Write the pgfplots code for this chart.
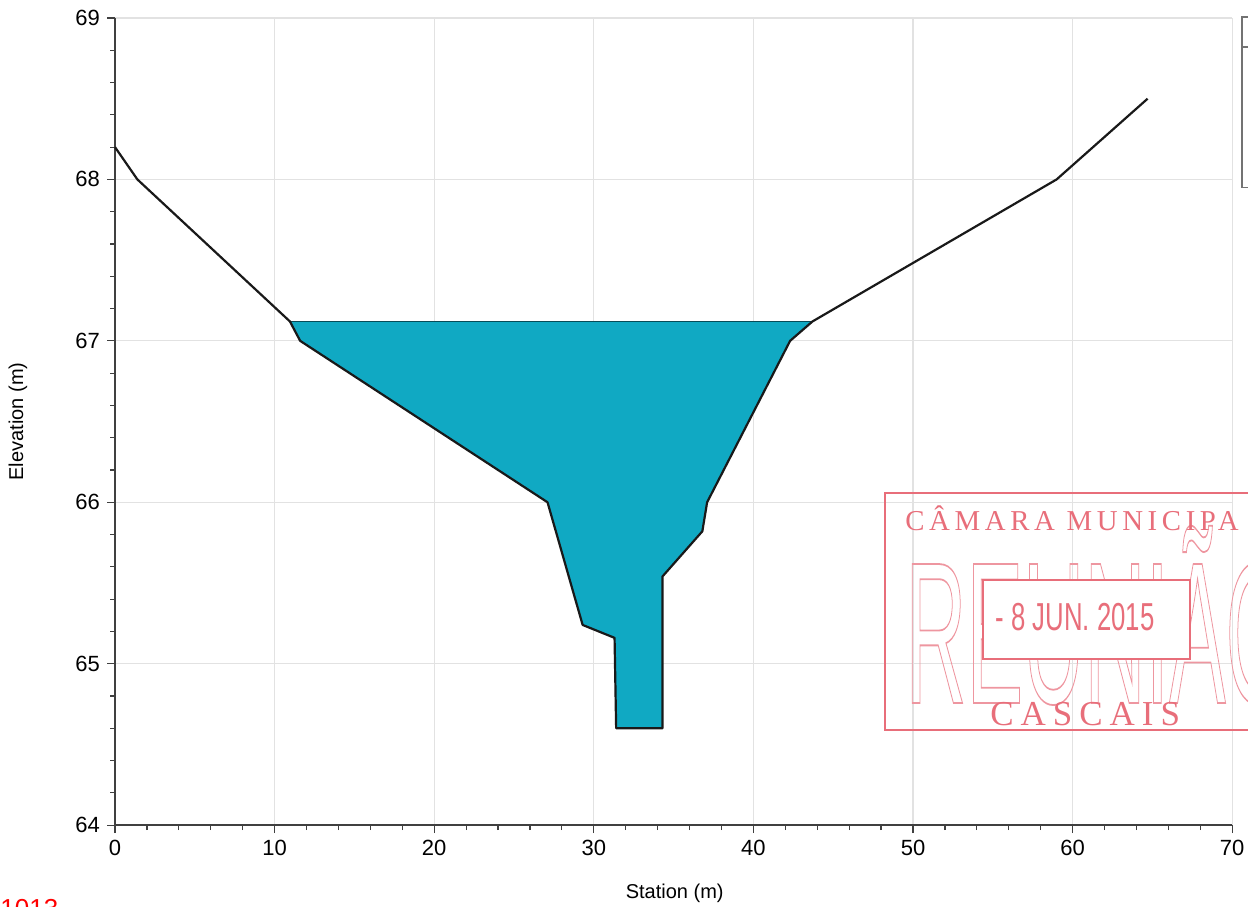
\documentclass[border=0pt]{standalone}
\usepackage{pgfplots}
\pgfplotsset{compat=1.18}
\usepackage{fontspec}
\setmainfont{Liberation Sans}
\newfontfamily\stampserif[LetterSpace=16]{Liberation Serif}
\newfontfamily\stampserifb[LetterSpace=20]{Liberation Serif}
\definecolor{water}{RGB}{16,169,195}
\definecolor{stamp}{RGB}{232,110,122}
\definecolor{stamppale}{RGB}{238,150,160}
\definecolor{gridc}{RGB}{226,226,226}
\newcommand{\outlinetext}[1]{\special{pdf:literal direct 1 Tr 0.9 w}#1\special{pdf:literal direct 0 Tr}}
\begin{document}
\begin{tikzpicture}
\begin{axis}[
  scale only axis, width=558.5pt, height=403.5pt,
  xmin=0, xmax=70, ymin=64, ymax=69,
  axis x line*=bottom, axis y line*=left,
  axis line style={-, line width=0.8pt, black!75},
  xtick={0,10,...,70}, ytick={64,65,...,69},
  minor x tick num=4, minor y tick num=4,
  tick align=outside, major tick length=4pt, minor tick length=2.5pt,
  tick style={black!75, line width=0.6pt},
  grid=major, major grid style={gridc, line width=0.6pt},
  ticklabel style={font=\fontsize{11}{13}\selectfont},
  /pgf/number format/assume math mode=true,
  xlabel={Station (m)}, ylabel={Elevation (m)},
  label style={font=\fontsize{10}{12}\selectfont},
  xlabel style={at={(axis description cs:0.501,-0.084)}, anchor=center},
  ylabel style={at={(axis description cs:-0.0868,0.5)}, anchor=center},
  clip=false,
]
% water
\addplot[fill=water, draw=none] coordinates {
  (10.96,67.12) (11.6,67.0) (27.1,66.0) (29.3,65.24) (31.3,65.16)
  (31.4,64.6) (34.3,64.6) (34.3,65.54) (36.8,65.82) (37.1,66.0)
  (42.3,67.0) (43.7,67.12)
};
\addplot[draw=black!55!water, line width=0.7pt] coordinates {(10.96,67.12) (43.7,67.12)};
% terrain
\addplot[black!90, line width=1.1pt, line join=round] coordinates {
  (0,68.2) (1.4,68.0) (10.96,67.12) (11.6,67.0) (27.1,66.0) (29.3,65.24)
  (31.3,65.16) (31.4,64.6) (34.3,64.6) (34.3,65.54) (36.8,65.82)
  (37.1,66.0) (42.3,67.0) (43.7,67.12) (59.0,68.0) (64.7,68.5)
};
% legend box (cut off)
\draw[black!55, line width=0.8pt] (axis cs:70.6,69.006) rectangle (axis cs:80,67.95);
\draw[black!55, line width=0.8pt] (axis cs:70.6,68.82) -- (axis cs:80,68.82);
% stamp
\node[anchor=base west, inner sep=0pt, xscale=0.42, text=stamppale,
      font=\fontsize{101}{101}\selectfont] at (axis cs:49.5,64.756) {\outlinetext{REUNIÃO}};
\draw[stamp, line width=1pt] (axis cs:48.25,66.06) rectangle (axis cs:75,64.59);
\draw[stamp, fill=white, line width=1pt] (axis cs:54.4,65.52) rectangle (axis cs:67.35,65.03);
\node[anchor=base west, inner sep=0pt, text=stamp,
      font=\stampserif\fontsize{14.4}{16}\selectfont] at (axis cs:49.5,65.822) {CÂMARA MUNICIPA};
\node[anchor=center, inner sep=0pt, xscale=0.66, text=stamp,
      font=\fontsize{19.5}{20}\selectfont] at (axis cs:60.16,65.29) {- 8 JUN. 2015};
\node[anchor=base, inner sep=0pt, text=stamp,
      font=\stampserifb\fontsize{17.5}{19}\selectfont] at (axis cs:60.79,64.62) {CASCAIS};
% red note bottom-left
\node[anchor=north west, inner sep=0pt, text=red,
      font=\fontsize{13}{15}\selectfont] at (axis cs:-7.207,63.541) {1013};
\coordinate (bbl) at (axis cs:-7.207,63.498);
\coordinate (btr) at (axis cs:70.99,69.1115);
\end{axis}
\pgfresetboundingbox
\useasboundingbox (bbl) rectangle (btr);
\end{tikzpicture}
\end{document}
